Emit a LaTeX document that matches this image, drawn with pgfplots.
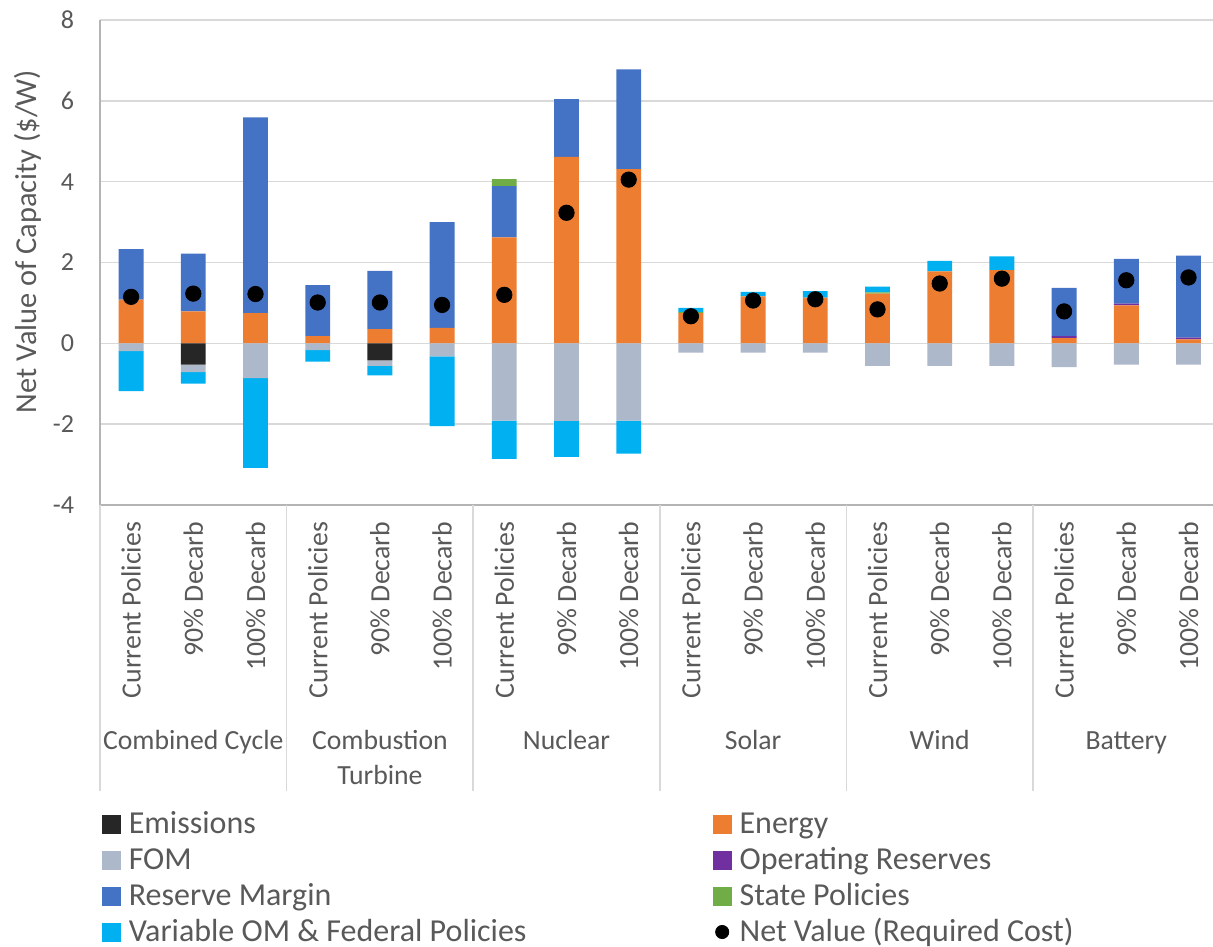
\documentclass[border=0pt]{standalone}
\usepackage{fontspec}
\setmainfont{Carlito}
\usepackage{pgfplots}
\usepackage{pgfplotstable}
\pgfplotsset{compat=1.18}
\definecolor{cEm}{HTML}{262626}
\definecolor{cE}{HTML}{ED7D31}
\definecolor{cF}{HTML}{ADB9CA}
\definecolor{cOR}{HTML}{7030A0}
\definecolor{cRM}{HTML}{4472C4}
\definecolor{cS}{HTML}{70AD47}
\definecolor{cV}{HTML}{00B0F0}
\definecolor{txt}{HTML}{595959}
\definecolor{gridgray}{HTML}{D9D9D9}
\definecolor{axgray}{HTML}{B4B4B4}

\pgfplotstableread{
x  E    OR   RM   S    Vp   Em    F     Vn    Net
0  1.08 0    1.25 0    0    0     -0.19 -0.99 1.15
1  0.79 0    1.43 0    0    -0.53 -0.18 -0.29 1.23
2  0.75 0    4.84 0    0    0     -0.86 -2.22 1.22
3  0.18 0    1.26 0    0    0     -0.17 -0.28 1.01
4  0.35 0    1.44 0    0    -0.42 -0.14 -0.23 1.01
5  0.38 0    2.62 0    0    0     -0.32 -1.73 0.95
6  2.62 0    1.27 0.17 0    0     -1.91 -0.95 1.20
7  4.61 0    1.43 0    0    0     -1.92 -0.89 3.23
8  4.31 0    2.47 0    0    0     -1.91 -0.82 4.05
9  0.75 0    0    0.02 0.11 0     -0.23 0     0.67
10 1.16 0    0    0    0.11 0     -0.23 0     1.06
11 1.13 0    0    0    0.16 0     -0.23 0     1.09
12 1.23 0    0    0.03 0.14 0     -0.56 0     0.84
13 1.78 0    0    0    0.26 0     -0.56 0     1.48
14 1.81 0    0    0    0.34 0     -0.56 0     1.60
15 0.13 0.05 1.19 0    0    0     -0.59 0     0.79
16 0.94 0.04 1.11 0    0    0     -0.53 0     1.56
17 0.10 0.04 2.03 0    0    0     -0.53 0     1.63
}\data

\pgfplotsset{
  base/.style={scale only axis, width=556.5pt, height=242.5pt,
    xmin=-0.5, xmax=17.394, ymin=-4, ymax=8, at={(0pt,0pt)}, anchor=south west},
}
\tikzset{grp/.style={anchor=base, font=\fontsize{13.85}{16}\selectfont, text=txt, inner sep=0pt}}

\begin{document}
\begin{tikzpicture}
% positive stack + axis
\begin{axis}[base, ybar stacked, bar width=0.4,
  axis x line*=bottom, axis y line*=left,
  axis line style={draw=axgray, line width=0.75pt, -},
  ytick={-4,-2,0,2,4,6,8}, yticklabels={-4,-2,0,2,4,6,8},
  ymajorgrids, grid style={draw=gridgray, line width=0.75pt},
  xtick={0,...,17},
  xticklabels={Current Policies,90\% Decarb,100\% Decarb,Current Policies,90\% Decarb,100\% Decarb,Current Policies,90\% Decarb,100\% Decarb,Current Policies,90\% Decarb,100\% Decarb,Current Policies,90\% Decarb,100\% Decarb,Current Policies,90\% Decarb,100\% Decarb},
  tick style={draw=none},
  xticklabel style={rotate=90, anchor=east, inner sep=0pt, outer sep=0pt, outer xsep=8.5pt, font=\fontsize{13.9}{16}\selectfont, text=txt},
  yticklabel style={anchor=east, inner sep=0pt, outer sep=0pt, outer xsep=13pt, font=\fontsize{13}{15}\selectfont, text=txt},
]
\addplot[fill=cE, draw=none] table[x=x,y=E]{\data};
\addplot[fill=cOR, draw=none] table[x=x,y=OR]{\data};
\addplot[fill=cRM, draw=none] table[x=x,y=RM]{\data};
\addplot[fill=cS, draw=none] table[x=x,y=S]{\data};
\addplot[fill=cV, draw=none] table[x=x,y=Vp]{\data};
\end{axis}
% negative stack
\begin{axis}[base, ybar stacked, bar width=0.4, hide axis]
\addplot[fill=cEm, draw=none] table[x=x,y=Em]{\data};
\addplot[fill=cF, draw=none] table[x=x,y=F]{\data};
\addplot[fill=cV, draw=none] table[x=x,y=Vn]{\data};
\end{axis}
% net value dots + legend + group labels
\begin{axis}[base, hide axis, clip=false, legend columns=2, legend cell align=left,
  legend style={at={(0.0018,-0.6309)}, anchor=north west, draw=none, fill=none,
    inner sep=0pt, outer sep=0pt, row sep=3pt,
    font=\fontsize{16}{18}\selectfont, text=txt,
    nodes={inner sep=0pt, text height=11pt, text depth=4pt},
    /tikz/every odd column/.style={column sep=4pt},
    /tikz/every even column/.style={column sep=0pt}},
]
\addlegendimage{legend image code/.code={\fill[cEm] (0pt,-3.5pt) rectangle (9pt,5.5pt);}}
\addlegendentry{\makebox[292pt][l]{Emissions}}
\addlegendimage{legend image code/.code={\fill[cE] (0pt,-3.5pt) rectangle (9pt,5.5pt);}}
\addlegendentry{Energy}
\addlegendimage{legend image code/.code={\fill[cF] (0pt,-3.5pt) rectangle (9pt,5.5pt);}}
\addlegendentry{\makebox[292pt][l]{FOM}}
\addlegendimage{legend image code/.code={\fill[cOR] (0pt,-3.5pt) rectangle (9pt,5.5pt);}}
\addlegendentry{Operating Reserves}
\addlegendimage{legend image code/.code={\fill[cRM] (0pt,-3.5pt) rectangle (9pt,5.5pt);}}
\addlegendentry{\makebox[292pt][l]{Reserve Margin}}
\addlegendimage{legend image code/.code={\fill[cS] (0pt,-3.5pt) rectangle (9pt,5.5pt);}}
\addlegendentry{State Policies}
\addlegendimage{legend image code/.code={\fill[cV] (0pt,-3.5pt) rectangle (9pt,5.5pt);}}
\addlegendentry{\makebox[292pt][l]{Variable OM \& Federal Policies}}
\addlegendimage{legend image code/.code={\fill[black] (4.5pt,1pt) circle (3.3pt);}}
\addlegendentry{Net Value (Required Cost)}
\addplot[only marks, mark=*, mark size=3.85pt, black, forget plot] table[x=x,y=Net]{\data};
\draw[gridgray, line width=0.75pt] (axis cs:-0.5,-4) -- ([yshift=-143pt]axis cs:-0.5,-4);
\draw[gridgray, line width=0.75pt] (axis cs:2.5,-4) -- ([yshift=-143pt]axis cs:2.5,-4);
\draw[gridgray, line width=0.75pt] (axis cs:5.5,-4) -- ([yshift=-143pt]axis cs:5.5,-4);
\draw[gridgray, line width=0.75pt] (axis cs:8.5,-4) -- ([yshift=-143pt]axis cs:8.5,-4);
\draw[gridgray, line width=0.75pt] (axis cs:11.5,-4) -- ([yshift=-143pt]axis cs:11.5,-4);
\draw[gridgray, line width=0.75pt] (axis cs:14.5,-4) -- ([yshift=-143pt]axis cs:14.5,-4);
\node[grp] at ([yshift=-122pt]axis cs:1,-4) {Combined Cycle};
\node[grp] at ([yshift=-122pt]axis cs:4,-4) {Combustion};
\node[grp] at ([yshift=-139.5pt]axis cs:4,-4) {Turbine};
\node[grp] at ([yshift=-122pt]axis cs:7,-4) {Nuclear};
\node[grp] at ([yshift=-122pt]axis cs:10,-4) {Solar};
\node[grp] at ([yshift=-122pt]axis cs:13,-4) {Wind};
\node[grp] at ([yshift=-122pt]axis cs:16,-4) {Battery};
\node[rotate=90, anchor=base, inner sep=0pt, font=\fontsize{15.2}{18}\selectfont, text=txt]
  at ([xshift=-31.5pt]rel axis cs:0,0.5433) {Net Value of Capacity (\$/W)};
\end{axis}
\pgfresetboundingbox
\path[use as bounding box] (-50pt,-220.5pt) rectangle (556.5pt,252.5pt);
\end{tikzpicture}
\end{document}
